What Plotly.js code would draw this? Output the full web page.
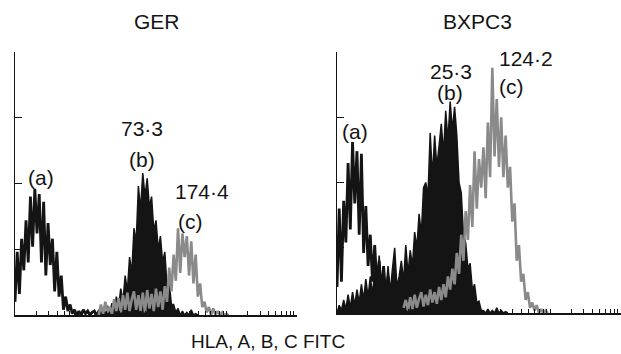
<!DOCTYPE html>
<html><head><meta charset="utf-8">
<script src="https://cdn.plot.ly/plotly-3.0.1.min.js"></script>
<style>html,body{margin:0;padding:0;background:#fff}#chart{width:621px;height:354px}</style>
</head><body><div id="chart"></div>
<script>
// Flow-cytometry histograms, 32 channels per decade on a 4-decade log scale
const CHANNELS_PER_DECADE = 32;
const panelTitles = ['GER', 'BXPC3'];
const axisTitle = 'HLA, A, B, C FITC';

// GER panel
const gerA_start = 0;
const gerA = [10,48,16,58,34,72,40,90,52,96,62,92,40,86,30,70,38,58,18,48,14,30,4,14,3,8,1,4,0,3,0,4,1,3,0,2,3,0,2,0];
const gerB_start = 36;
const gerB = [2,0,4,1,5,0,7,2,9,3,14,6,20,10,30,18,44,32,66,55,98,80,108,90,104,82,90,64,72,50,60,40,48,22,24,8,8,2,5,0,3,0,2,0,4,0,1,0];
const gerC_start = 38;
const gerC = [0,8,1,10,2,6,1,12,3,13,2,15,4,17,3,12,18,4,15,3,17,2,19,5,16,3,20,6,18,4,22,10,36,18,46,26,66,32,62,44,60,30,56,24,46,14,24,6,10,2,6,0,5,0,3,0,2,0,1,0];
const gerLabels = ['(a)', '73·3', '(b)', '174·4', '(c)'];

// BXPC3 panel
const bxA_start = 0;
const bxA = [20,80,24,86,54,115,64,131,84,124,60,122,46,82,36,60,24,52,20,40,14,36,12,28,10,22,8,18,5,10,2,6,0,3,0];
const bxB_start = 0;
const bxB = [0,6,2,10,3,14,4,16,6,18,8,22,10,26,12,28,14,32,16,44,18,30,14,36,16,34,50,20,28,40,24,52,30,48,36,62,50,76,60,96,100,90,138,104,136,112,128,145,122,155,132,162,140,158,136,100,92,60,54,34,38,18,22,8,9,2,2,0,3,0,2,0,4,0,2,0,1,0];
const bxC_start = 30;
const bxC = [4,10,2,12,3,14,4,11,16,5,14,6,18,8,16,7,20,10,22,12,28,18,34,22,46,30,60,40,78,56,98,66,124,80,118,96,127,88,146,104,188,120,164,112,150,104,136,96,112,70,84,40,52,24,30,10,16,4,8,2,6,0,3,0,2,0];
const bxLabels = ['(a)', '25·3', '(b)', '124·2', '(c)'];

const BLACK = '#141414', GRAY = '#8a8a8a';
const W = 621, H = 354;

function hist(start, counts, xa, ya, kind) {
  const x = counts.map((_, i) => Math.pow(10, (start + i) / CHANNELS_PER_DECADE));
  const t = {type: 'scatter', mode: 'lines', x: x, y: counts, xaxis: xa, yaxis: ya, hoverinfo: 'skip'};
  if (kind === 'fill') { t.fill = 'tozeroy'; t.fillcolor = BLACK; t.line = {color: BLACK, width: 1.5, simplify: false}; }
  else if (kind === 'black') { t.line = {color: BLACK, width: 2.8, simplify: false}; }
  else { t.line = {color: GRAY, width: 2.6, simplify: false}; }
  return t;
}

const data = [
  hist(gerB_start, gerB, 'x', 'y', 'fill'),
  hist(gerA_start, gerA, 'x', 'y', 'black'),
  hist(gerC_start, gerC, 'x', 'y', 'gray'),
  hist(bxB_start, bxB, 'x2', 'y2', 'fill'),
  hist(bxA_start, bxA, 'x2', 'y2', 'black'),
  hist(bxC_start, bxC, 'x2', 'y2', 'gray')
];

function xax(d0, d1, anchor) {
  return {type: 'log', range: [0, 4], domain: [d0 / W, d1 / W], anchor: anchor,
    showline: true, linecolor: BLACK, linewidth: 1.5, ticks: 'inside', ticklen: 4,
    tickwidth: 1, tickcolor: BLACK, dtick: 'D1', showticklabels: false,
    showgrid: false, zeroline: false, fixedrange: true};
}
function yax(bottom, top, anchor) {
  return {range: [0, 200], domain: [1 - bottom / H, 1 - top / H], anchor: anchor,
    showline: true, linecolor: BLACK, linewidth: 1.5, ticks: 'inside', ticklen: 7,
    tickwidth: 1.2, tickcolor: BLACK, tickvals: [0, 50, 100, 150, 200], showticklabels: false,
    showgrid: false, zeroline: false, fixedrange: true};
}

const font = {family: 'Liberation Sans, Arial, sans-serif', size: 21, color: BLACK};
function ann(text, px, py, size) {
  return {text: text, x: px / W, y: 1 - py / H, xref: 'paper', yref: 'paper',
    xanchor: 'center', yanchor: 'middle', showarrow: false,
    font: Object.assign({}, font, size ? {size: size} : {})};
}
const gerPos = [[41, 177], [142, 129], [142, 159], [202, 191], [190, 221]];
const bxPos = [[355, 131], [451, 71], [450, 93], [526, 59], [511, 86]];
const annotations = [
  ann(panelTitles[0], 157, 22),
  ann(panelTitles[1], 477, 22),
  ann(axisTitle, 268, 341, 19)
];
gerLabels.forEach((t, i) => annotations.push(ann(t, gerPos[i][0], gerPos[i][1])));
bxLabels.forEach((t, i) => annotations.push(ann(t, bxPos[i][0], bxPos[i][1])));

const layout = {
  width: W, height: H, margin: {l: 0, r: 0, t: 0, b: 0},
  paper_bgcolor: '#fff', plot_bgcolor: 'rgba(0,0,0,0)', showlegend: false,
  xaxis: xax(15, 297, 'y'), yaxis: yax(315, 52, 'x'),
  xaxis2: xax(337, 621, 'y2'), yaxis2: yax(313, 52, 'x2'),
  annotations: annotations
};
Plotly.newPlot('chart', data, layout, {staticPlot: true, displayModeBar: false});
</script></body></html>
